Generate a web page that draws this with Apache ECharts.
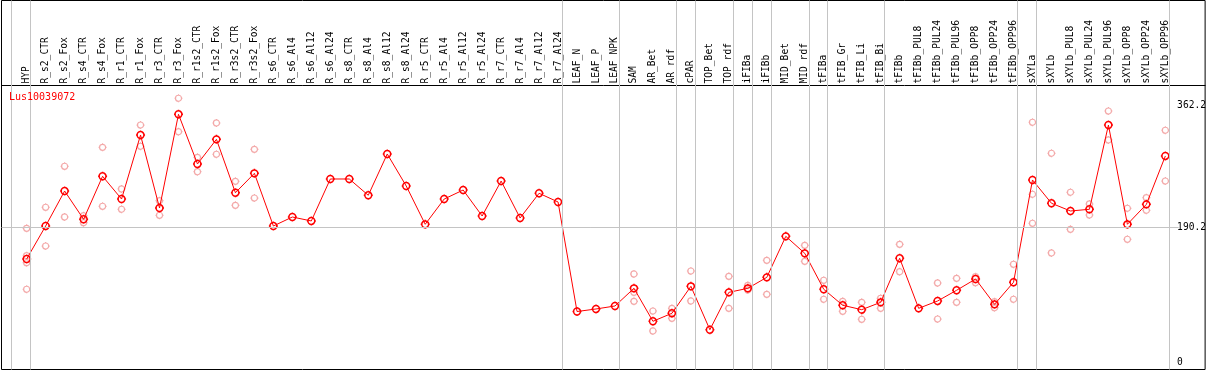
<!DOCTYPE html>
<html><head><meta charset="utf-8">
<script src="https://cdn.jsdelivr.net/npm/echarts@6/dist/echarts.min.js"></script>
<style>html,body{margin:0;padding:0;background:#fff}#c{width:1209px;height:370px}</style>
</head><body><div id="c"></div>
<script>
const chartTitle = 'Lus10039072';
const categories = ['HYP','R_s2_CTR','R_s2_Fox','R_s4_CTR','R_s4_Fox','R_r1_CTR','R_r1_Fox','R_r3_CTR','R_r3_Fox',
  'R_r1s2_CTR','R_r1s2_Fox','R_r3s2_CTR','R_r3s2_Fox','R_s6_CTR','R_s6_Al4','R_s6_Al12','R_s6_Al24',
  'R_s8_CTR','R_s8_Al4','R_s8_Al12','R_s8_Al24','R_r5_CTR','R_r5_Al4','R_r5_Al12','R_r5_Al24',
  'R_r7_CTR','R_r7_Al4','R_r7_Al12','R_r7_Al24','LEAF_N','LEAF_P','LEAF_NPK','SAM','AR_Bet','AR_rdf',
  'cPAR','TOP_Bet','TOP_rdf','iFIBa','iFIBb','MID_Bet','MID_rdf','tFIBa','tFIB_Gr','tFIB_Li','tFIB_Bi',
  'tFIBb','tFIBb_PUL8','tFIBb_PUL24','tFIBb_PUL96','tFIBb_OPP8','tFIBb_OPP24','tFIBb_OPP96',
  'sXYLa','sXYLb','sXYLb_PUL8','sXYLb_PUL24','sXYLb_PUL96','sXYLb_OPP8','sXYLb_OPP24','sXYLb_OPP96'];
const means = [145.5,192.1,241.5,201.6,262.3,230.2,320.6,217.5,349.9,
  279.7,314.5,239.1,266.5,192.1,204.8,199.2,258.5,
  258.5,235.5,293.8,248.6,194.5,230.2,242.9,206.2,
  255.6,203.4,238.3,226.0,71.3,74.9,79.1,104.1,57.5,68.8,
  106.9,45.6,98.4,104.1,119.6,177.5,153.5,102.7,80.1,73.9,84.3,
  146.5,75.8,86.2,101.3,117.2,81.5,112.6,
  257.1,224.2,213.3,215.7,334.7,194.5,222.7,291.0];
const replicates = [
  [188.8,150.1,140.3,102.7],[218.5,163.8],[276.4,204.8],[206.6,196.8],[303.2,219.9],[244.4,215.7],[334.7,304.7],[227.8,207.2],[372.5,325.3],
  [289.1,268.8],[337.6,293.4],[255.2,221.3],[300.4,231.6],[],[],[],[],
  [],[],[],[],[],[],[],[],
  [],[],[],[],[],[],[],[124.3,98.4,85.7],[72.0,43.8],[75.8,61.7],
  [128.5,86.2],[],[121.0,75.8],[108.3,101.7],[143.6,95.6],[],[164.8,142.2],[115.4,88.6],[85.7,71.6],[84.3,60.3],[90.0,75.8],
  [166.2,127.5],[],[111.6,60.7],[118.2,84.3],[120.5,112.0],[85.2,76.7],[138.0,88.6],
  [338.6,236.9,195.9],[294.8,154.0],[239.7,187.4],[223.2,207.6],[354.5,313.6],[217.1,173.3],[232.1,214.3],[327.3,255.6]];
const groupEnds = [-1,0,28,31,34,35,37,38,39,41,42,45,52,53,60];
const yTickValues = [0,190.2,362.2];
const refLineValue = 190.2;

const FONT = 'DejaVu Sans Mono';
const X_MIN = -1.3263, X_MAX = 62.095;
const marker = 'path://M5 1.2A3.8 3.8 0 1 1 4.99 1.2Z M5 0L5 1.2M5 8.8L5 10M0 5L1.2 5M8.8 5L10 5';

const repData = [];
replicates.forEach((arr, i) => arr.forEach(v => repData.push([i, v])));

const chart = echarts.init(document.getElementById('c'), null, {renderer: 'canvas'});
chart.setOption({
  animation: false,
  title: {text: chartTitle, left: 9, top: 92, padding: 0,
    textStyle: {fontFamily: FONT, fontSize: 10, fontWeight: 'normal', color: '#ff0000'}},
  grid: {left: 1.5, right: 2.5, top: 0.5, bottom: 0.5, show: true, borderColor: '#000', borderWidth: 1},
  xAxis: {type: 'value', min: X_MIN, max: X_MAX, position: 'bottom', offset: -284,
    axisLine: {onZero: false, lineStyle: {color: '#000', width: 1}},
    axisTick: {show: false}, splitLine: {show: false},
    axisLabel: {inside: true, rotate: 90, margin: 2, customValues: categories.map((_, i) => i),
      formatter: v => categories[Math.round(v)], fontFamily: FONT, fontSize: 9.6, color: '#000'}},
  yAxis: {type: 'value', min: -10.593, max: 510.6, position: 'right', offset: -28,
    axisLine: {show: false}, axisTick: {show: false}, splitLine: {show: false},
    axisLabel: {margin: 0, customValues: yTickValues, formatter: v => String(v),
      fontFamily: FONT, fontSize: 9.6, color: '#000'}},
  series: [
    {type: 'scatter', data: repData, symbol: marker, symbolSize: 8, z: 2,
      itemStyle: {color: 'none', borderColor: '#f09494', borderWidth: 1.2},
      markLine: {silent: true, symbol: 'none', animation: false, label: {show: false},
        lineStyle: {color: '#c4c4c4', width: 1, type: 'solid'},
        data: groupEnds.map(g => ({xAxis: g + 0.21})).concat([
          [{coord: [X_MIN, refLineValue]}, {coord: [60.7, refLineValue]}]
        ])}},
    {type: 'line', data: means.map((v, i) => [i, v]), symbol: marker, symbolSize: 9, showAllSymbol: true, z: 3,
      lineStyle: {color: '#ff0000', width: 1},
      itemStyle: {color: 'none', borderColor: '#ff0000', borderWidth: 1.5}}
  ]
});
</script></body></html>
